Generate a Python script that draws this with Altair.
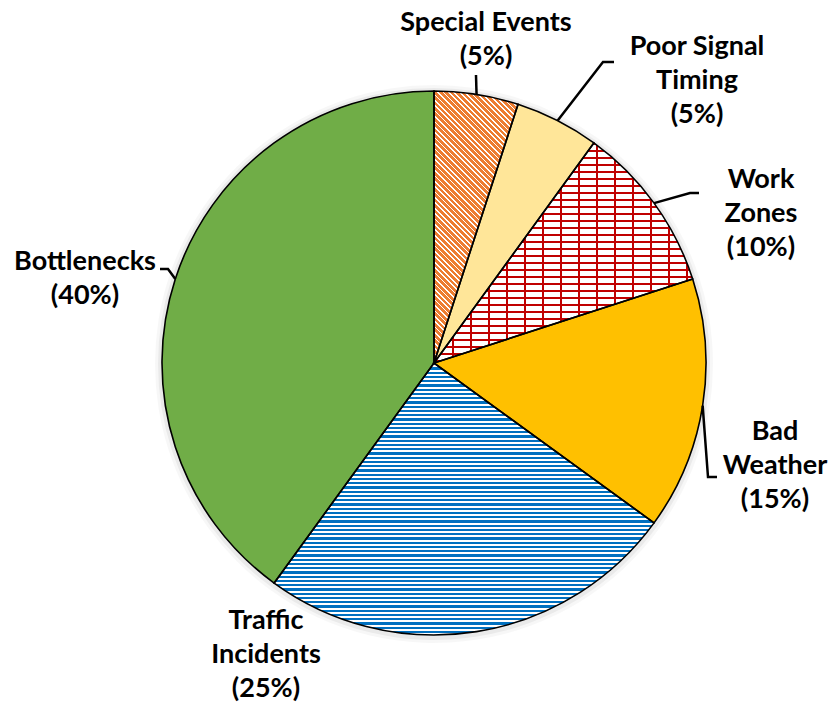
import math
from itertools import accumulate

import altair as alt
import pandas as pd

# Causes of congestion: share of total delay (%)
categories = ["Special Events", "Poor Signal Timing", "Work Zones",
              "Bad Weather", "Traffic Incidents", "Bottlenecks"]
shares = [5, 5, 10, 15, 25, 40]
label_lines = [["Special Events"], ["Poor Signal", "Timing"], ["Work", "Zones"],
               ["Bad", "Weather"], ["Traffic", "Incidents"], ["Bottlenecks"]]

# ---- layout -------------------------------------------------------------
W, H = 829, 705
CX, CY, R = 434, 363, 272
# centre of each label's first line
label_xy = [(486, 23), (697, 47), (761, 180), (775, 432), (266, 621), (85, 262)]
# leader elbows, drawn from the slice's outer mid-point
leader_bends = [[(476, 75)], [(603, 62), (614, 62)], [(690, 193), (699, 193)],
                [(708, 477), (717, 477)], [], [(168, 269), (160, 269)]]

solid_fill = {"Poor Signal Timing": "#FFE699", "Bad Weather": "#FFC000",
              "Bottlenecks": "#70AD47"}

total = sum(shares)
ends = list(accumulate(shares))
starts = [e - s for e, s in zip(ends, shares)]

df = pd.DataFrame({
    "category": categories,
    "share": shares,
    "start": starts,
    "end": ends,
    "text": ["\n".join(lines + [f"({s}%)"]) for lines, s in zip(label_lines, shares)],
    "lx": [p[0] for p in label_xy],
    "ly": [p[1] for p in label_xy],
})


def polar(a_deg, r=R):
    a = math.radians(a_deg)
    return CX + r * math.sin(a), CY - r * math.cos(a)


def wedge_box(a0, a1):
    pts = [(CX, CY), polar(a0), polar(a1)]
    pts += [polar(k) for k in (0, 90, 180, 270, 360) if a0 < k < a1]
    xs = [p[0] for p in pts]
    ys = [p[1] for p in pts]
    return min(xs), min(ys), max(xs) - min(xs), max(ys) - min(ys)


def stripe_stops(length, period, band, ink, paper):
    stops, pos = [], 0.0
    while pos < length:
        a = pos / length
        b = min((pos + band) / length, 1.0)
        c = min((pos + period) / length, 1.0)
        stops += [{"offset": round(a, 5), "color": ink},
                  {"offset": round(b, 5), "color": ink},
                  {"offset": round(b, 5), "color": paper},
                  {"offset": round(c, 5), "color": paper}]
        pos += period
    return stops


angle = {c: (360 * s / total, 360 * e / total) for c, s, e in zip(categories, starts, ends)}
CLEAR = "rgba(255,255,255,0)"

# Special Events: orange "\" diagonal hatch
x0, y0, w, h = wedge_box(*angle["Special Events"])
s = (w + h) / (w * w + h * h)
hatch = {"gradient": "linear", "x1": 0, "y1": 1, "x2": round(s * w, 5), "y2": round(1 - s * h, 5),
         "stops": stripe_stops(w + h, 5.4, 3.7, "#ED7D31", "#FFFFFF")}

# Work Zones: red brick-like grid
x0, y0, w, h = wedge_box(*angle["Work Zones"])
brick_rows = {"gradient": "linear", "x1": 0, "y1": 0, "x2": 0, "y2": 1,
              "stops": stripe_stops(h, 7.0, 1.8, "#C00000", "#FFFFFF")}
brick_cols = {"gradient": "linear", "x1": 0, "y1": 0, "x2": 1, "y2": 0,
              "stops": stripe_stops(w, 18.0, 1.8, "#C00000", CLEAR)}

# Traffic Incidents: blue horizontal lines
x0, y0, w, h = wedge_box(*angle["Traffic Incidents"])
hlines = {"gradient": "linear", "x1": 0, "y1": 0, "x2": 0, "y2": 1,
          "stops": stripe_stops(h, 4.25, 2.3, "#0070C0", "#FFFFFF")}

theta_scale = alt.Scale(domain=[0, total], range=[0, 2 * math.pi])
xs = alt.Scale(domain=[0, W], range=[0, W], nice=False, zero=False)
ys = alt.Scale(domain=[0, H], range=[0, H], nice=False, zero=False)


def arcs(data, radius=R, dy=0, **mark):
    return alt.Chart(data).mark_arc(radius=radius, **mark).encode(
        theta=alt.Theta("start:Q", stack=None, scale=theta_scale),
        theta2="end:Q",
        x=alt.value(CX),
        y=alt.value(CY + dy),
    )


# soft shadow halo under the pie
halo2 = arcs(df, radius=R + 7, dy=1, fill="#000000", opacity=0.03)
halo = arcs(df, radius=R + 4, dy=1, fill="#000000", opacity=0.05)

base = arcs(df).encode(
    fill=alt.Fill("category:N", legend=None,
                  scale=alt.Scale(domain=categories,
                                  range=[solid_fill.get(c, "#FFFFFF") for c in categories]))
)

special = arcs(df, fill=hatch).transform_filter(alt.datum.category == "Special Events")
work_a = arcs(df, fill=brick_rows).transform_filter(alt.datum.category == "Work Zones")
work_b = arcs(df, fill=brick_cols).transform_filter(alt.datum.category == "Work Zones")
traffic = arcs(df, fill=hlines).transform_filter(alt.datum.category == "Traffic Incidents")

outline = arcs(df, fillOpacity=0, stroke="#000000", strokeWidth=1.6)

# leader lines
rows = []
for c, bends in zip(categories, leader_bends):
    if not bends:
        continue
    a0, a1 = angle[c]
    pts = [polar((a0 + a1) / 2)] + bends
    for k, (px, py) in enumerate(pts):
        rows.append({"id": c, "k": k, "x": px, "y": py})
leader_df = pd.DataFrame(rows)

leaders = alt.Chart(leader_df).mark_line(color="#000000", strokeWidth=2.5).encode(
    x=alt.X("x:Q", scale=xs, axis=None),
    y=alt.Y("y:Q", scale=ys, axis=None),
    detail="id:N",
    order="k:Q",
)

labels = alt.Chart(df).mark_text(
    font="Lato", fontWeight="bold", fontSize=27, lineBreak="\n", lineHeight=34,
    align="center", baseline="middle", color="#000000"
).encode(
    x=alt.X("lx:Q", scale=xs, axis=None),
    y=alt.Y("ly:Q", scale=ys, axis=None),
    text="text:N",
)

chart = alt.layer(halo2, halo, base, special, work_a, work_b, traffic, outline, leaders, labels).properties(
    width=W, height=H, padding=0, autosize="none"
).configure(background="#FFFFFF").configure_view(stroke=None, fill="#FFFFFF")

chart.save("out.html", embed_options={"renderer": "svg", "actions": False})
